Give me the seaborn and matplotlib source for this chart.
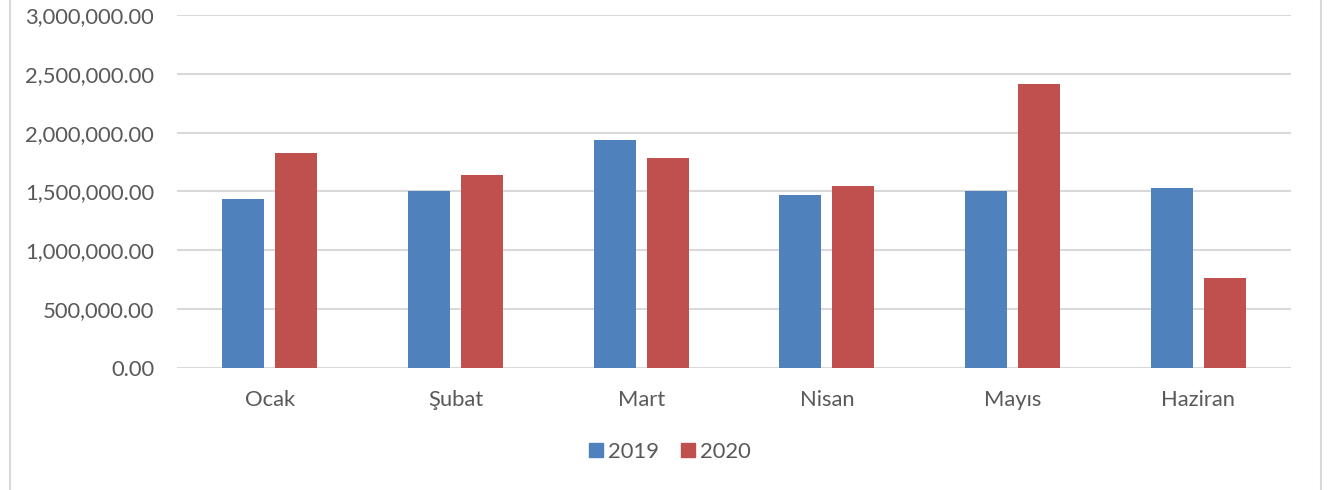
import pandas as pd
import matplotlib.pyplot as plt
import matplotlib.ticker as mticker
from matplotlib.lines import Line2D
import seaborn as sns

# ─── Datos ───────────────────────────────────────────────────
months = ["Ocak", "Şubat", "Mart", "Nisan", "Mayıs", "Haziran"]
years = ["2019", "2020"]
values_2019 = [1_439_000, 1_500_000, 1_938_000, 1_471_000, 1_505_000, 1_533_000]
values_2020 = [1_824_000, 1_643_000, 1_782_000, 1_544_000, 2_411_000, 765_000]
y_ticks = [0, 500_000, 1_000_000, 1_500_000, 2_000_000, 2_500_000, 3_000_000]

BLUE = "#4F81BD"
RED = "#C0504D"
GRID = "#D9D9D9"
TEXT = "#595959"

df = pd.DataFrame({
    "month": months * 2,
    "year": [years[0]] * len(months) + [years[1]] * len(months),
    "value": values_2019 + values_2020,
})

# ─── Estilo ──────────────────────────────────────────────────
sns.set_theme(style="white")
plt.rcParams["font.family"] = ["Lato", "DejaVu Sans"]

fig = plt.figure(figsize=(13.27, 4.90), dpi=100)
ax = fig.add_axes([177 / 1327, 1 - 368 / 490, (1291 - 177) / 1327, (368 - 15) / 490])

sns.barplot(data=df, x="month", y="value", hue="year", order=months,
            hue_order=years, palette=[BLUE, RED], width=0.57, gap=0.208,
            saturation=1, linewidth=0, ax=ax, legend=False)

ax.set_ylim(0, 3_000_000)
ax.set_yticks(y_ticks)
ax.yaxis.set_major_formatter(mticker.FuncFormatter(lambda v, _: f"{v:,.2f}"))
ax.grid(axis="y", color=GRID, linewidth=1.5)
ax.set_axisbelow(True)
for s in ax.spines.values():
    s.set_visible(False)
ax.tick_params(axis="both", length=0, labelsize=15.8, colors=TEXT)
ax.tick_params(axis="y", pad=16.5)
ax.tick_params(axis="x", pad=16)
ax.set_xlabel("")
ax.set_ylabel("")

# leyenda abajo
handles = [Line2D([], [], marker="s", linestyle="none", markersize=10.5,
                  markerfacecolor=c, markeredgecolor=c) for c in (BLUE, RED)]
fig.legend(handles, years, loc="center", bbox_to_anchor=(669 / 1327, 1 - 452 / 490),
           ncol=2, frameon=False, fontsize=15.8, labelcolor=TEXT,
           handletextpad=0.15, columnspacing=0.9, handlelength=0.8)

# borde del gráfico
for x in (10, 1321):
    fig.add_artist(Line2D([x / 1327, x / 1327], [0, 1], color=GRID, linewidth=1.5))

fig.savefig("out.png", dpi=100)
